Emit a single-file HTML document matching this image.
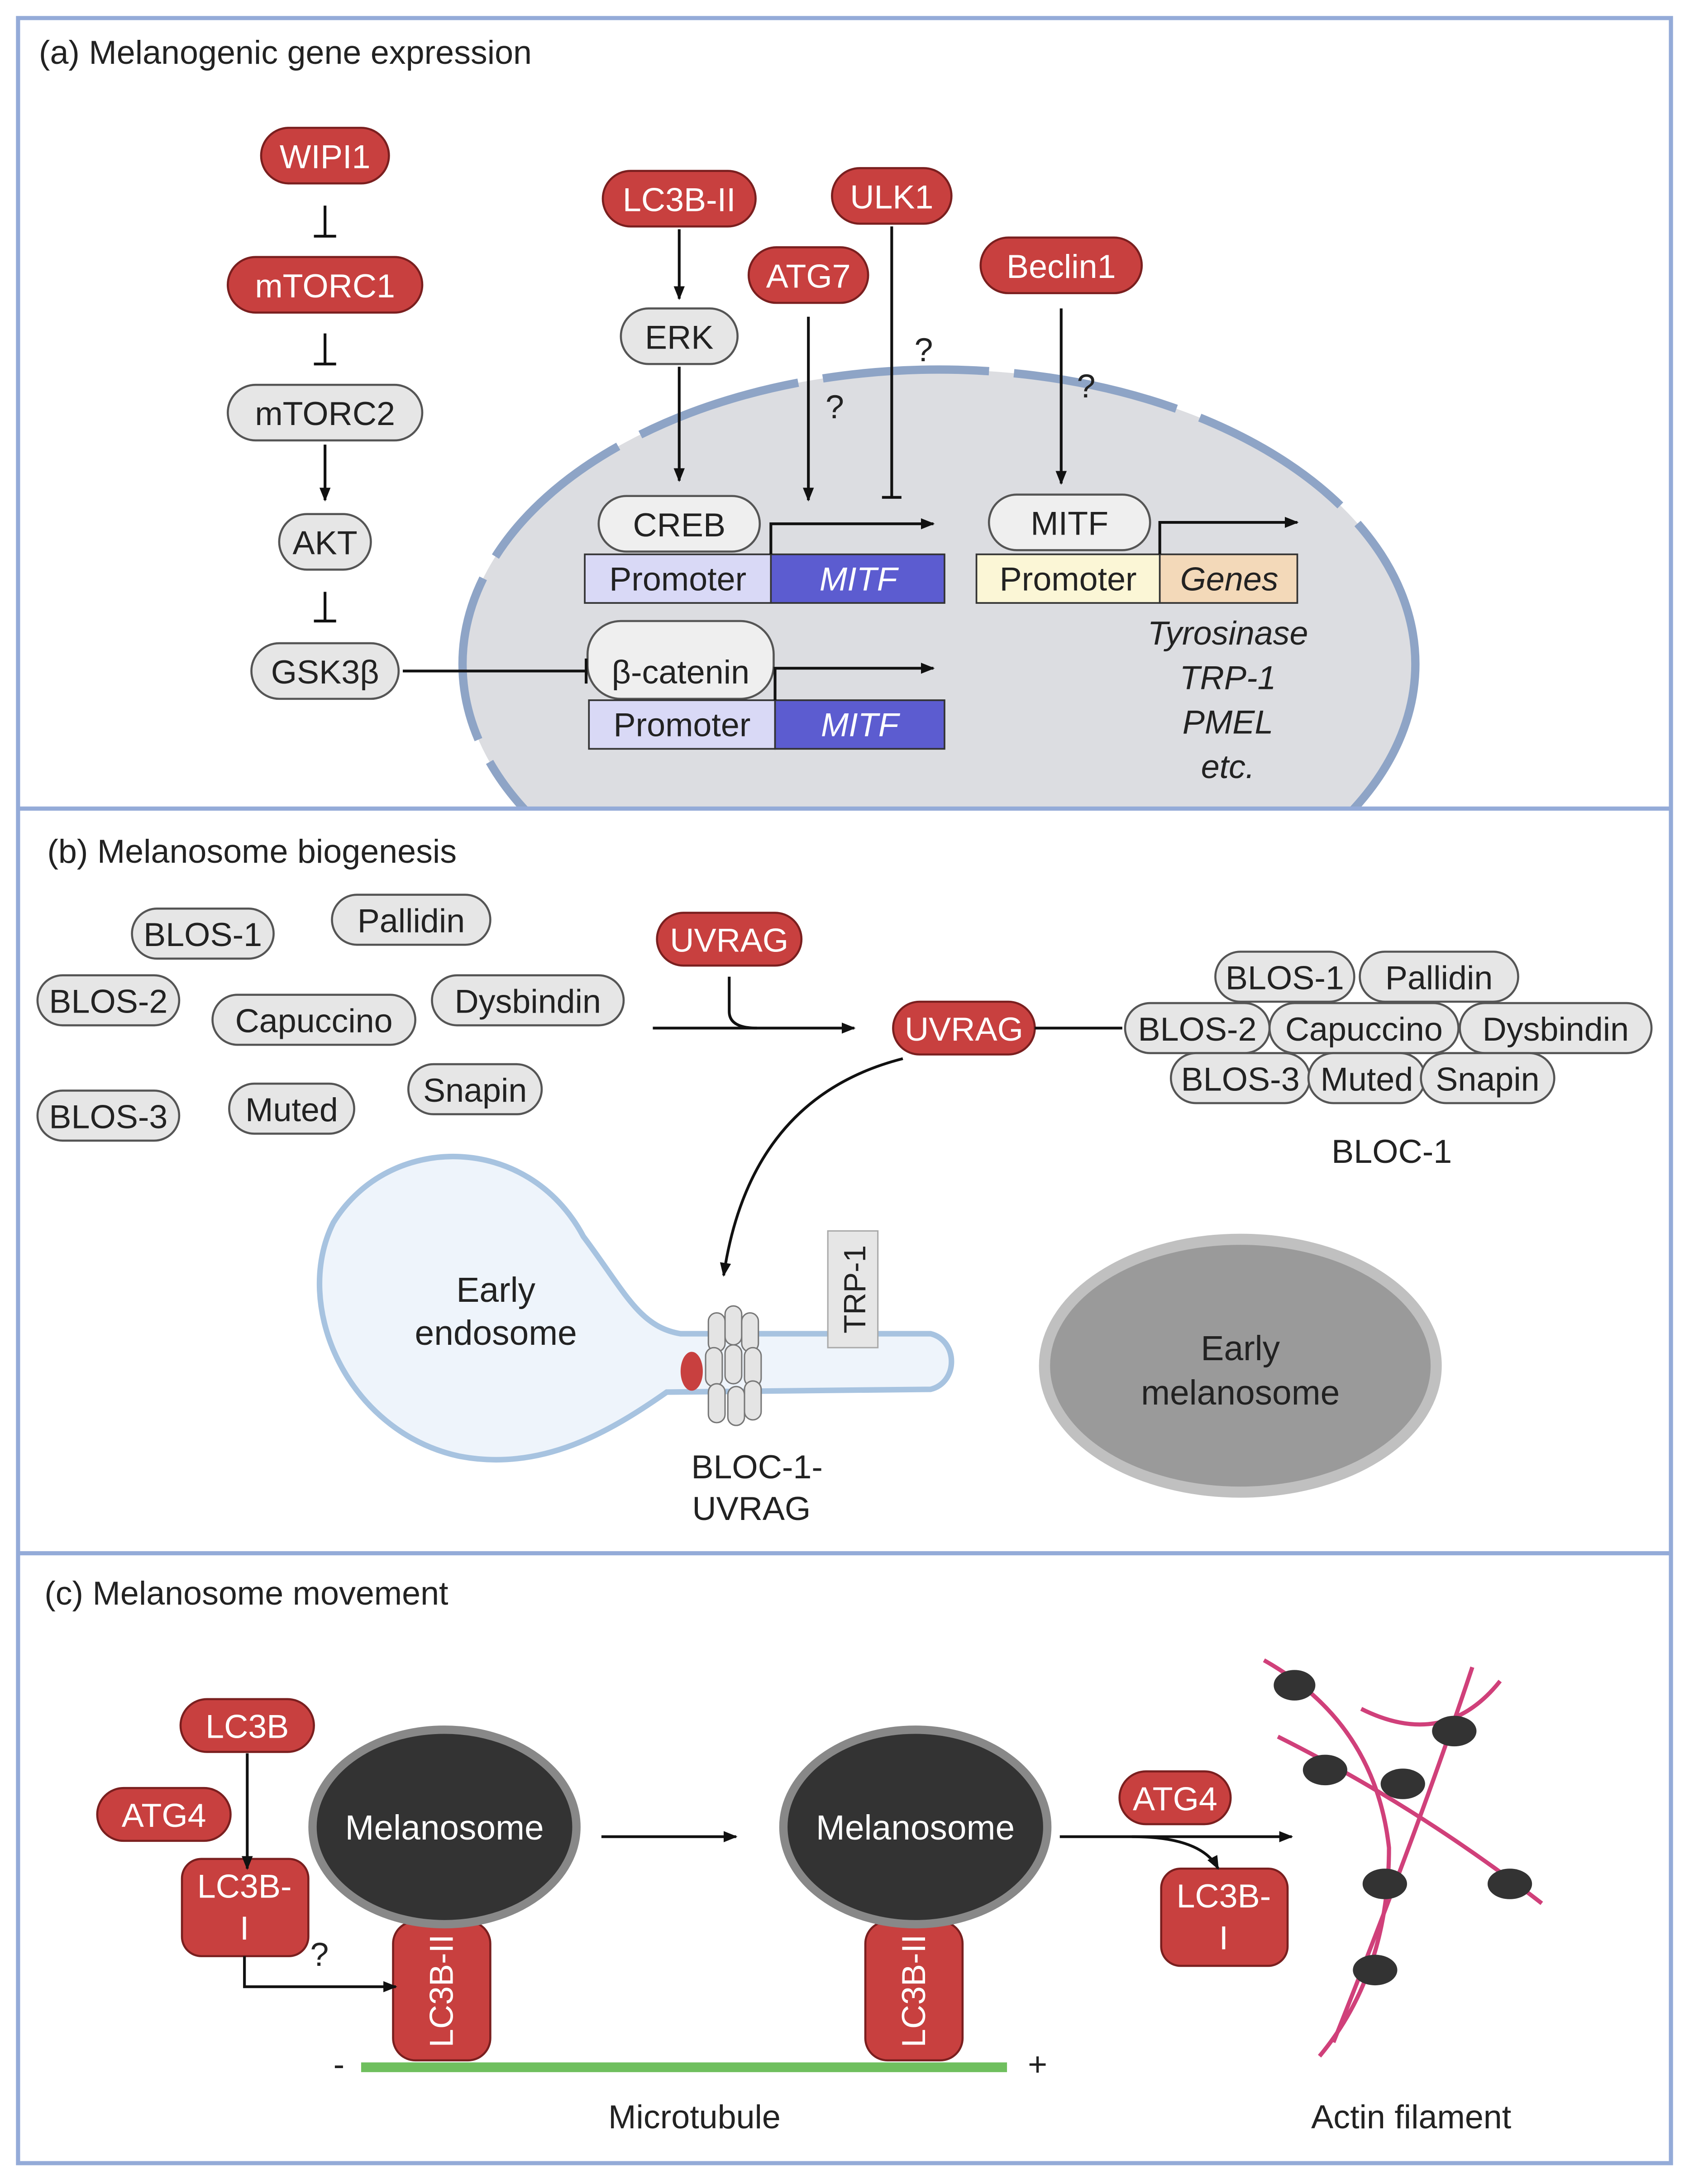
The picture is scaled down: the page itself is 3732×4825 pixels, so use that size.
<!DOCTYPE html>
<html><head><meta charset="utf-8"><style>
html,body{margin:0;padding:0;background:#fff}
svg{display:block}
text{font-family:"Liberation Sans","DejaVu Sans",sans-serif}
</style></head><body>
<svg width="3732" height="4825" viewBox="0 0 1216 1572" preserveAspectRatio="none" xmlns="http://www.w3.org/2000/svg">
<defs>
<marker id="ar" viewBox="0 0 10 10" refX="9" refY="5" markerWidth="5" markerHeight="5" orient="auto"><path d="M0,1 L10,5 L0,9 z" fill="#111"/></marker>
<clipPath id="pa"><rect x="14" y="14" width="1188" height="567"/></clipPath>
</defs>
<rect width="1216" height="1572" fill="#fff"/>
<!-- Panel a nucleus -->
<g clip-path="url(#pa)">
<ellipse cx="676" cy="478" rx="343" ry="212" fill="#dcdde1"/>
<ellipse cx="676" cy="478" rx="343" ry="212" fill="none" stroke="#8ea4c6" stroke-width="6" stroke-dasharray="120 18"/>
</g>
<!-- Panel borders -->
<rect x="13" y="13" width="1190" height="1544" fill="none" stroke="#94abd8" stroke-width="3"/>
<line x1="13" y1="582" x2="1203" y2="582" stroke="#94abd8" stroke-width="3"/>
<line x1="13" y1="1118" x2="1203" y2="1118" stroke="#94abd8" stroke-width="3"/>
<g font-size="24" fill="#222">
<text x="28" y="46">(a) Melanogenic gene expression</text>
<text x="34" y="621">(b) Melanosome biogenesis</text>
<text x="32" y="1155">(c) Melanosome movement</text>
</g>
<!-- red pills -->
<g fill="#c8403f" stroke="#7a1f1f" stroke-width="1.5">
<rect x="188" y="92" width="92" height="40" rx="20"/>
<rect x="164" y="185" width="140" height="40" rx="20"/>
<rect x="434" y="123" width="110" height="40" rx="20"/>
<rect x="539" y="178" width="86" height="40" rx="20"/>
<rect x="599" y="121" width="86" height="40" rx="20"/>
<rect x="706" y="171" width="116" height="40" rx="20"/>
<rect x="473" y="657" width="104" height="38" rx="19"/>
<rect x="643" y="721" width="102" height="38" rx="19"/>
<rect x="130" y="1223" width="96" height="38" rx="19"/>
<rect x="70" y="1287" width="96" height="38" rx="19"/>
<rect x="806" y="1275" width="80" height="38" rx="19"/>
<rect x="131" y="1338" width="91" height="70" rx="14"/>
<rect x="836" y="1345" width="91" height="70" rx="14"/>
<rect x="283" y="1383" width="70" height="100" rx="16"/>
<rect x="623" y="1383" width="70" height="100" rx="16"/>
</g>
<g fill="#fff" font-size="24" text-anchor="middle">
<text x="234" y="121">WIPI1</text>
<text x="234" y="214">mTORC1</text>
<text x="489" y="152">LC3B-II</text>
<text x="582" y="207">ATG7</text>
<text x="642" y="150">ULK1</text>
<text x="764" y="200">Beclin1</text>
<text x="525" y="685">UVRAG</text>
<text x="694" y="749">UVRAG</text>
<text x="178" y="1251">LC3B</text>
<text x="118" y="1315">ATG4</text>
<text x="846" y="1303">ATG4</text>
<text x="176" y="1366">LC3B-</text><text x="176" y="1396">I</text>
<text x="881" y="1373">LC3B-</text><text x="881" y="1403">I</text>
<text transform="translate(326,1433) rotate(-90)">LC3B-II</text>
<text transform="translate(666,1433) rotate(-90)">LC3B-II</text>
</g>
<!-- gray pills -->
<g fill="#e6e6e6" stroke="#555" stroke-width="1.5">
<rect x="164" y="277" width="140" height="40" rx="20"/>
<rect x="201" y="370" width="66" height="40" rx="20"/>
<rect x="181" y="463" width="106" height="40" rx="20"/>
<rect x="447" y="222" width="84" height="40" rx="20"/>
<rect x="431" y="357" width="116" height="40" rx="20" fill="#efefef"/>
<rect x="712" y="356" width="116" height="40" rx="20" fill="#efefef"/>
<rect x="423" y="447" width="134" height="56" rx="24" fill="#efefef"/>
<rect x="95" y="654" width="102" height="36" rx="18"/>
<rect x="239" y="644" width="114" height="36" rx="18"/>
<rect x="27" y="702" width="102" height="36" rx="18"/>
<rect x="153" y="716" width="146" height="36" rx="18"/>
<rect x="311" y="702" width="138" height="36" rx="18"/>
<rect x="27" y="785" width="102" height="36" rx="18"/>
<rect x="165" y="780" width="90" height="36" rx="18"/>
<rect x="294" y="766" width="96" height="36" rx="18"/>
<rect x="875" y="685" width="100" height="36" rx="18"/>
<rect x="979" y="685" width="114" height="36" rx="18"/>
<rect x="810" y="722" width="104" height="36" rx="18"/>
<rect x="914" y="722" width="136" height="36" rx="18"/>
<rect x="1051" y="722" width="138" height="36" rx="18"/>
<rect x="843" y="758" width="100" height="36" rx="18"/>
<rect x="942" y="758" width="84" height="36" rx="18"/>
<rect x="1023" y="758" width="96" height="36" rx="18"/>
</g>
<g fill="#222" font-size="24" text-anchor="middle">
<text x="234" y="306">mTORC2</text>
<text x="234" y="399">AKT</text>
<text x="234" y="492">GSK3β</text>
<text x="489" y="251">ERK</text>
<text x="489" y="386">CREB</text>
<text x="770" y="385">MITF</text>
<text x="490" y="492">β-catenin</text>
<text x="146" y="681">BLOS-1</text>
<text x="296" y="671">Pallidin</text>
<text x="78" y="729">BLOS-2</text>
<text x="226" y="743">Capuccino</text>
<text x="380" y="729">Dysbindin</text>
<text x="78" y="812">BLOS-3</text>
<text x="210" y="807">Muted</text>
<text x="342" y="793">Snapin</text>
<text x="925" y="712">BLOS-1</text>
<text x="1036" y="712">Pallidin</text>
<text x="862" y="749">BLOS-2</text>
<text x="982" y="749">Capuccino</text>
<text x="1120" y="749">Dysbindin</text>
<text x="893" y="785">BLOS-3</text>
<text x="984" y="785">Muted</text>
<text x="1071" y="785">Snapin</text>
<text x="1002" y="837">BLOC-1</text>
<text x="601" y="301">?</text>
<text x="665" y="260">?</text>
<text x="782" y="286">?</text>
<text x="230" y="1415">?</text>
</g>
<!-- promoter boxes -->
<g stroke="#333" stroke-width="1.2">
<rect x="421" y="399" width="134" height="35" fill="#d9d9f6"/>
<rect x="555" y="399" width="125" height="35" fill="#5c5cd0"/>
<rect x="424" y="504" width="134" height="35" fill="#d9d9f6"/>
<rect x="558" y="504" width="122" height="35" fill="#5c5cd0"/>
<rect x="703" y="399" width="132" height="35" fill="#fbf6d6"/>
<rect x="835" y="399" width="99" height="35" fill="#f3d9b9"/>
</g>
<g font-size="24" text-anchor="middle">
<text x="488" y="425" fill="#222">Promoter</text>
<text x="618" y="425" fill="#fff" font-style="italic">MITF</text>
<text x="491" y="530" fill="#222">Promoter</text>
<text x="619" y="530" fill="#fff" font-style="italic">MITF</text>
<text x="769" y="425" fill="#222">Promoter</text>
<text x="885" y="425" fill="#222" font-style="italic">Genes</text>
<g fill="#222" font-style="italic">
<text x="884" y="464">Tyrosinase</text>
<text x="884" y="496">TRP-1</text>
<text x="884" y="528">PMEL</text>
<text x="884" y="560">etc.</text>
</g>
</g>
<!-- arrows panel a -->
<g stroke="#111" stroke-width="2" fill="none">
<path d="M234,148 V170 M226,170 H242"/>
<path d="M234,240 V262 M226,262 H242"/>
<path d="M234,426 V447 M226,447 H242"/>
<path d="M234,320 V360" marker-end="url(#ar)"/>
<path d="M489,165 V215" marker-end="url(#ar)"/>
<path d="M489,264 V346" marker-end="url(#ar)"/>
<path d="M582,228 V360" marker-end="url(#ar)"/>
<path d="M642,163 V358 M635,358 H649"/>
<path d="M764,222 V348" marker-end="url(#ar)"/>
<path d="M555,399 V377 H672" marker-end="url(#ar)"/>
<path d="M835,399 V376 H934" marker-end="url(#ar)"/>
<path d="M558,504 V481 H672" marker-end="url(#ar)"/>
<path d="M290,483 H422 M422,474 V492"/>
<!-- panel b -->
<path d="M470,740 H615" marker-end="url(#ar)"/>
<path d="M525,703 V728 Q525,740 545,740"/>
<path d="M745,740 H808"/>
<path d="M650,762 Q540,790 521,918" marker-end="url(#ar)"/>
<!-- panel c -->
<path d="M178,1262 V1345" marker-end="url(#ar)"/>
<path d="M176,1408 V1430 H285" marker-end="url(#ar)"/>
<path d="M433,1322 H530" marker-end="url(#ar)"/>
<path d="M763,1322 H930" marker-end="url(#ar)"/>
<path d="M815,1322 Q865,1322 877,1345" marker-end="url(#ar)"/>
</g>
<!-- endosome -->
<path d="M420,890 C380,815 280,815 240,880 C210,940 250,1030 330,1048 C390,1060 440,1030 480,1002 L670,1000 C690,995 690,965 670,960 L490,960 C460,955 450,930 420,890 Z" fill="#eef4fb" stroke="#a7c3e0" stroke-width="4"/>
<text x="357" y="937" font-size="25" text-anchor="middle" fill="#222">Early</text>
<text x="357" y="968" font-size="25" text-anchor="middle" fill="#222">endosome</text>
<ellipse cx="498" cy="987" rx="8" ry="14" fill="#c8403f"/>
<g fill="#e4e4e4" stroke="#777" stroke-width="1">
<rect x="510" y="945" width="12" height="28" rx="6"/><rect x="522" y="940" width="12" height="28" rx="6"/><rect x="534" y="945" width="12" height="28" rx="6"/>
<rect x="508" y="970" width="12" height="28" rx="6"/><rect x="522" y="968" width="12" height="28" rx="6"/><rect x="536" y="970" width="12" height="28" rx="6"/>
<rect x="510" y="996" width="12" height="28" rx="6"/><rect x="524" y="998" width="12" height="28" rx="6"/><rect x="536" y="994" width="12" height="28" rx="6"/>
</g>
<rect x="596" y="886" width="36" height="84" fill="#e6e6e6" stroke="#aaa"/>
<text transform="translate(623,928) rotate(-90)" font-size="22" text-anchor="middle" fill="#222">TRP-1</text>
<text x="545" y="1064" font-size="24" text-anchor="middle" fill="#222">BLOC-1-</text>
<text x="541" y="1094" font-size="24" text-anchor="middle" fill="#222">UVRAG</text>
<ellipse cx="893" cy="983" rx="141" ry="91" fill="#9a9a9a" stroke="#c0c0c0" stroke-width="8"/>
<text x="893" y="979" font-size="25" text-anchor="middle" fill="#222">Early</text>
<text x="893" y="1011" font-size="25" text-anchor="middle" fill="#222">melanosome</text>
<!-- melanosomes -->
<ellipse cx="320" cy="1315" rx="95" ry="70" fill="#333" stroke="#888" stroke-width="6"/>
<ellipse cx="659" cy="1315" rx="95" ry="70" fill="#333" stroke="#888" stroke-width="6"/>
<text x="320" y="1324" font-size="25" fill="#fff" text-anchor="middle">Melanosome</text>
<text x="659" y="1324" font-size="25" fill="#fff" text-anchor="middle">Melanosome</text>
<line x1="260" y1="1488" x2="725" y2="1488" stroke="#6fbf5e" stroke-width="7"/>
<g font-size="24" fill="#222" text-anchor="middle">
<text x="244" y="1494">-</text><text x="747" y="1494">+</text>
<text x="500" y="1532">Microtubule</text>
<text x="1016" y="1532">Actin filament</text>
</g>
<!-- actin -->
<g stroke="#d0407a" stroke-width="3" fill="none">
<path d="M910,1195 Q990,1240 1000,1330 Q1000,1420 950,1480"/>
<path d="M1060,1200 Q1020,1320 960,1470"/>
<path d="M920,1250 Q1020,1300 1110,1370"/>
<path d="M980,1230 Q1040,1260 1080,1210"/>
</g>
<g fill="#333">
<ellipse cx="932" cy="1213" rx="15" ry="11"/>
<ellipse cx="954" cy="1274" rx="16" ry="11"/>
<ellipse cx="1010" cy="1284" rx="16" ry="11"/>
<ellipse cx="1047" cy="1246" rx="16" ry="11"/>
<ellipse cx="997" cy="1356" rx="16" ry="11"/>
<ellipse cx="1087" cy="1356" rx="16" ry="11"/>
<ellipse cx="990" cy="1418" rx="16" ry="11"/>
</g>
</svg>
</body></html>
